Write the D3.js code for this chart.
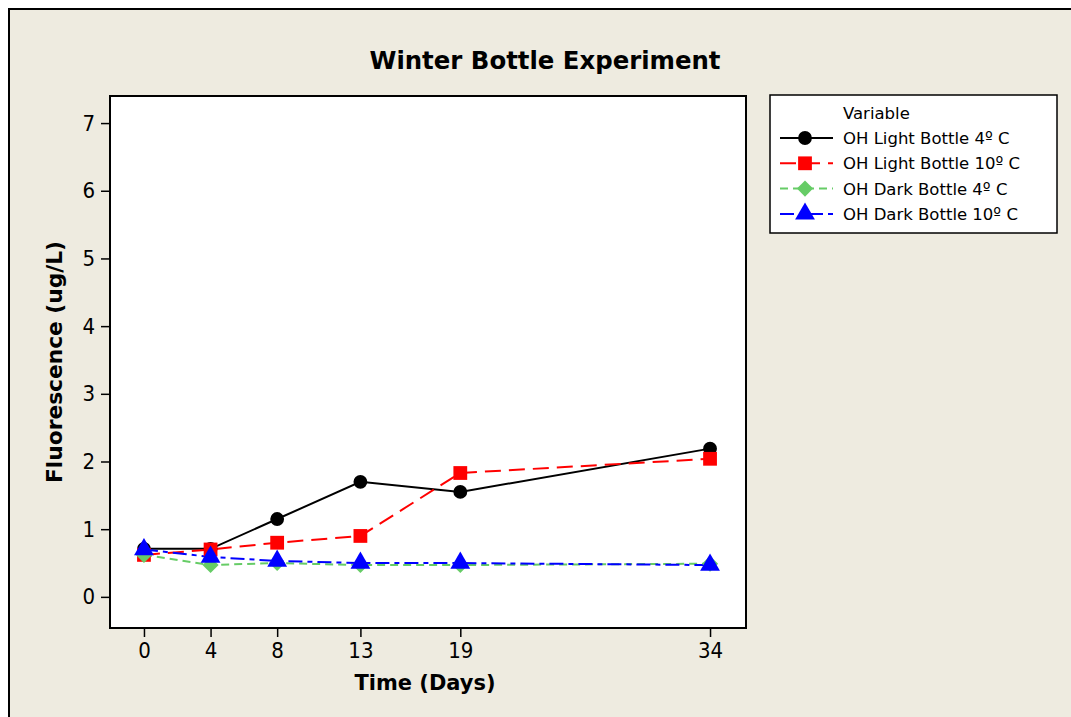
<!DOCTYPE html>
<html>
<head>
<meta charset="utf-8">
<script src="https://cdn.jsdelivr.net/npm/d3@7"></script>
<style>
  html, body { margin: 0; padding: 0; background: #fff; }
  svg { display: block; font-family: "DejaVu Sans", sans-serif; }
</style>
</head>
<body>
<svg width="1071" height="717"></svg>
<script>
const days = [0, 4, 8, 13, 19, 34];
const yTicks = [0, 1, 2, 3, 4, 5, 6, 7];
const seriesNames = ["OH Light Bottle 4º C", "OH Light Bottle 10º C", "OH Dark Bottle 4º C", "OH Dark Bottle 10º C"];
const light4 = [0.71, 0.71, 1.15, 1.70, 1.55, 2.19];
const light10 = [0.62, 0.70, 0.80, 0.90, 1.83, 2.04];
const dark4 = [0.62, 0.47, 0.50, 0.47, 0.47, 0.49];
const dark10 = [0.70, 0.59, 0.53, 0.50, 0.50, 0.47];

const svg = d3.select("svg");
const bg = "#eeebe0";

// outer frame (runs past the right and bottom edge)
svg.append("rect").attr("x", 9).attr("y", 9).attr("width", 1100).attr("height", 750)
  .attr("fill", bg).attr("stroke", "#000").attr("stroke-width", 2);

const plot = { left: 110, top: 96, right: 746, bottom: 628 };
const x = d3.scaleLinear().domain([-2.04, 36.16]).range([plot.left, plot.right]);
const y = d3.scaleLinear().domain([-0.46, 7.4]).range([plot.bottom, plot.top]);

svg.append("rect").attr("x", plot.left).attr("y", plot.top)
  .attr("width", plot.right - plot.left).attr("height", plot.bottom - plot.top)
  .attr("fill", "#fff");

svg.append("text").attr("x", 545).attr("y", 69).attr("text-anchor", "middle")
  .attr("font-size", 25).attr("font-weight", "bold")
  .attr("textLength", 351).attr("lengthAdjust", "spacingAndGlyphs")
  .text("Winter Bottle Experiment");

const xAxis = svg.append("g").attr("transform", `translate(0,${plot.bottom})`)
  .call(d3.axisBottom(x).tickValues(days).tickSize(9).tickPadding(5));
const yAxis = svg.append("g").attr("transform", `translate(${plot.left},0)`)
  .call(d3.axisLeft(y).tickValues(yTicks).tickSize(9).tickPadding(6));
[xAxis, yAxis].forEach(a => {
  a.select(".domain").remove();
  a.selectAll("line").attr("stroke", "#000").attr("stroke-width", 1.5);
  a.selectAll("text").attr("font-size", 22).attr("fill", "#000")
    .attr("font-family", "\"DejaVu Sans Condensed\", \"DejaVu Sans\", sans-serif");
});

svg.append("text").attr("x", 425).attr("y", 690).attr("text-anchor", "middle")
  .attr("font-size", 21).attr("font-weight", "bold")
  .attr("textLength", 141).attr("lengthAdjust", "spacingAndGlyphs")
  .text("Time (Days)");
svg.append("text").attr("transform", "translate(62,362) rotate(-90)").attr("text-anchor", "middle")
  .attr("font-size", 21).attr("font-weight", "bold")
  .attr("textLength", 242).attr("lengthAdjust", "spacingAndGlyphs")
  .text("Fluorescence (ug/L)");

const styles = [
  { data: light4, color: "#000000", dash: null, symbol: d3.symbolCircle, size: 150, rot: 0 },
  { data: light10, color: "#ff0000", dash: "16,8", symbol: d3.symbolSquare, size: 190, rot: 0 },
  { data: dark4, color: "#66cc66", dash: "8,5", symbol: d3.symbolSquare, size: 130, rot: 45 },
  { data: dark10, color: "#0000ff", dash: "14,5,5,5", symbol: d3.symbolTriangle, size: 170, rot: 0 }
];

const line = d3.line().x(d => x(d[0])).y(d => y(d[1]));
const plotG = svg.append("g");
styles.forEach(s => {
  const pts = days.map((d, i) => [d, s.data[i]]);
  plotG.append("path").attr("d", line(pts)).attr("fill", "none")
    .attr("stroke", s.color).attr("stroke-width", 2)
    .attr("stroke-dasharray", s.dash);
});
styles.forEach(s => {
  plotG.selectAll(null).data(days.map((d, i) => [d, s.data[i]])).enter()
    .append("path")
    .attr("d", d3.symbol().type(s.symbol).size(s.size))
    .attr("transform", d => `translate(${x(d[0])},${y(d[1])}) rotate(${s.rot})`)
    .attr("fill", s.color);
});

svg.append("rect").attr("x", plot.left).attr("y", plot.top)
  .attr("width", plot.right - plot.left).attr("height", plot.bottom - plot.top)
  .attr("fill", "none").attr("stroke", "#000").attr("stroke-width", 2);

// legend
const lg = svg.append("g");
lg.append("rect").attr("x", 770).attr("y", 95).attr("width", 287).attr("height", 138)
  .attr("fill", "#fff").attr("stroke", "#000").attr("stroke-width", 1.5);
lg.append("text").attr("x", 843).attr("y", 119).attr("font-size", 16.5).text("Variable");
styles.forEach((s, i) => {
  const ly = 138 + i * 25.3;
  lg.append("line").attr("x1", 780).attr("x2", 833).attr("y1", ly).attr("y2", ly)
    .attr("stroke", s.color).attr("stroke-width", 2).attr("stroke-dasharray", s.dash);
  lg.append("path").attr("d", d3.symbol().type(s.symbol).size(s.size))
    .attr("transform", `translate(805,${ly}) rotate(${s.rot})`).attr("fill", s.color);
  lg.append("text").attr("x", 843).attr("y", ly + 6).attr("font-size", 16.5)
    .text(seriesNames[i]);
});
</script>
</body>
</html>
